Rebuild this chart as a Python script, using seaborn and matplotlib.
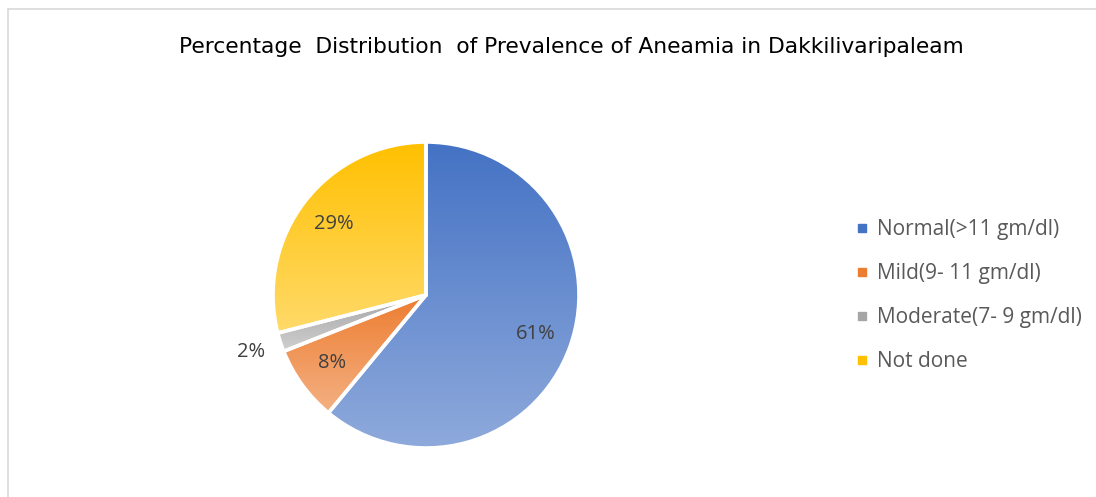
import numpy as np
import matplotlib
matplotlib.use("Agg")
import matplotlib.pyplot as plt
import seaborn as sns
from matplotlib.colors import LinearSegmentedColormap
from matplotlib.lines import Line2D

sns.set_theme(style="white")
plt.rcParams['font.family'] = ['Open Sans', 'DejaVu Sans']

# ---- data ----
categories = ["Normal(>11 gm/dl)", "Mild(9- 11 gm/dl)", "Moderate(7- 9 gm/dl)", "Not done"]
values = [61, 8, 2, 29]
top_colors = ["#4472C4", "#ED7D31", "#A5A5A5", "#FFC000"]
bottom_colors = ["#8FAADC", "#F4B183", "#CFCFCF", "#FFDA6A"]
title = "Percentage  Distribution  of Prevalence of Aneamia in Dakkilivaripaleam"

W, H = 1096, 497
fig = plt.figure(figsize=(W / 100, H / 100), dpi=100)
fig.patch.set_facecolor("white")

cx, cy, r = 426, 295, 153
ax = fig.add_axes([(cx - r) / W, (H - cy - r) / H, 2 * r / W, 2 * r / H])

wedges, texts, autotexts = ax.pie(
    values, startangle=90, counterclock=False, colors=top_colors,
    autopct=lambda p: f"{p:.0f}%", pctdistance=0.76,
    wedgeprops=dict(edgecolor="white", linewidth=2.6),
    textprops=dict(color="#404040", fontsize=14.5),
)
ax.set_aspect("equal")
ax.axis("off")

# gradient fill per wedge (darker at top, lighter at bottom)
for w, c1, c2 in zip(wedges, top_colors, bottom_colors):
    verts = w.get_path().vertices
    x0, x1 = verts[:, 0].min(), verts[:, 0].max()
    y0, y1 = verts[:, 1].min(), verts[:, 1].max()
    cmap = LinearSegmentedColormap.from_list("g", [c1, c2])
    grad = np.linspace(0, 1, 256).reshape(-1, 1)
    im = ax.imshow(grad, cmap=cmap, extent=(x0, x1, y0, y1), origin="upper",
                   aspect="auto", zorder=1, interpolation="bilinear")
    im.set_clip_path(w)
    w.set_facecolor("none")
    w.set_zorder(2)
ax.set_xlim(-1, 1)
ax.set_ylim(-1, 1)

for t in autotexts:
    t.set_zorder(4)

# move the small slice label outside
small = autotexts[2]
x, y = small.get_position()
rr = np.hypot(x, y)
small.set_position((x / rr * 1.2, y / rr * 1.2))

# legend
handles = [Line2D([], [], marker="s", linestyle="", markersize=6,
                  markerfacecolor=c, markeredgecolor=c) for c in top_colors]
leg = fig.legend(handles, categories, loc="upper left",
                 bbox_to_anchor=(845 / W, 1 - 209 / H), frameon=False,
                 fontsize=15, labelcolor="#595959", labelspacing=1.1,
                 handlelength=0.6, handletextpad=0.45, borderpad=0)

fig.text(571 / W, 1 - 47 / H, title, ha="center", va="center",
         fontsize=15.7, color="black",
         family=["Liberation Sans Narrow", "DejaVu Sans"])

# frame lines
fig.add_artist(Line2D([8 / W, 1], [1 - 9 / H, 1 - 9 / H], color="#D9D9D9", lw=1.2))
fig.add_artist(Line2D([8 / W, 8 / W], [0, 1 - 9 / H], color="#D9D9D9", lw=1.2))

fig.savefig("out.png", dpi=100, facecolor="white")
